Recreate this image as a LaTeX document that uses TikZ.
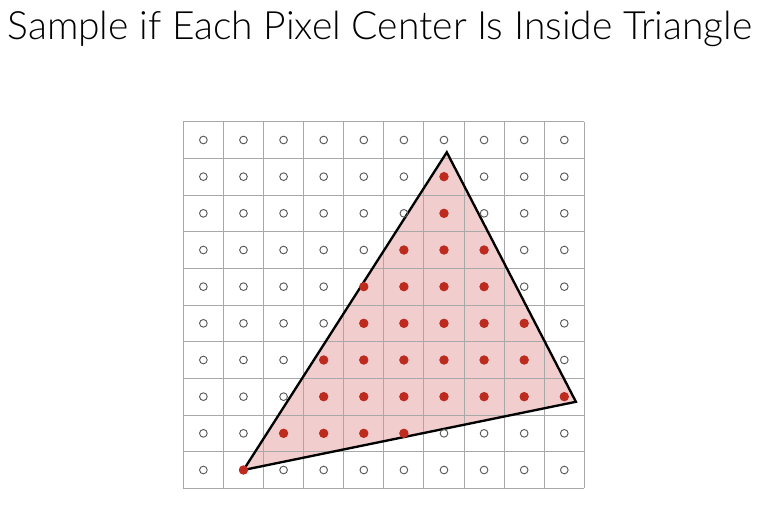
\documentclass[tikz,border=0pt]{standalone}
\usepackage{fontspec}
\setmainfont{Lato Light}
\definecolor{pinkfill}{HTML}{F2CDCD}
\definecolor{dotred}{HTML}{BE2A1E}
\definecolor{gridgray}{HTML}{A8A8A8}
\begin{document}
\begin{tikzpicture}[x=1.203cm,y=1.1cm]
 \useasboundingbox (-5.5cm,-0.531cm) rectangle (17.27cm,14.65cm);
 \node[anchor=base,font=\fontsize{33.3}{40}\selectfont] (title) at (5.9cm,13.45cm) {Sample if Each Pixel Center Is Inside Triangle};
 \coordinate (A) at (1.5,0.5);
 \coordinate (B) at (6.57,9.165);
 \coordinate (C) at (9.79,2.36);
 \fill[pinkfill] (A)--(B)--(C)--cycle;
 \foreach \k in {0,...,10} {
  \draw[gridgray,line width=.8pt] (\k,0)--(\k,10);
  \draw[gridgray,line width=.8pt] (0,\k)--(10,\k);
 }
 \draw[line width=2pt] (A)--(B)--(C)--cycle;
 \foreach \i in {0,...,9} \foreach \j in {0,...,9}
  \draw[gray!70!black,line width=.8pt] (\i+.5,\j+.5) circle (.115cm);
 \foreach \j/\a/\b in {0/1/1,1/2/5,2/3/9,3/3/8,4/4/8,5/4/7,6/5/7,7/6/6,8/6/6}
  \foreach \i in {\a,...,\b}
   \fill[dotred] (\i+.5,\j+.5) circle (.14cm);
\end{tikzpicture}
\end{document}
